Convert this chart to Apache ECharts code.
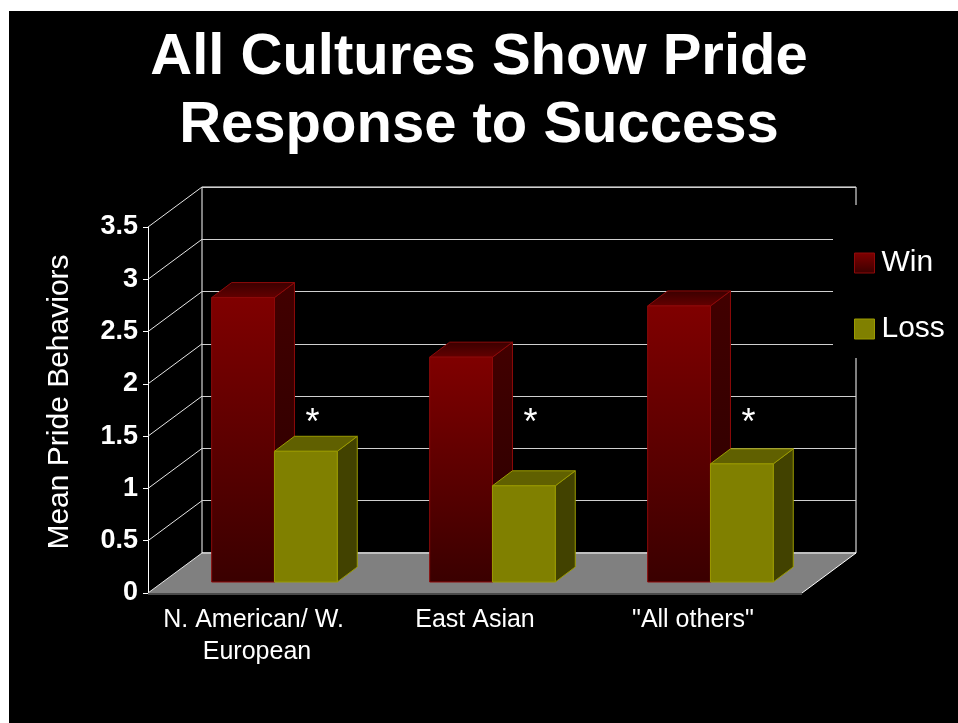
<!DOCTYPE html>
<html>
<head>
<meta charset="utf-8">
<script src="https://cdn.jsdelivr.net/npm/echarts@6/dist/echarts.min.js"></script>
<style>
  html, body { margin: 0; padding: 0; background: #fff; }
  #slide { position: absolute; left: 9px; top: 11px; width: 949px; height: 712px; background: #000; }
  #chart { position: absolute; left: 0; top: 0; width: 958px; height: 723px; }
</style>
</head>
<body>
<div id="slide"></div>
<div id="chart"></div>
<script>
// ---- data ----
const categories = ['N. American/ W. European', 'East Asian', '"All others"'];
const winValues  = [2.72, 2.15, 2.64];
const lossValues = [1.25, 0.92, 1.13];
const yTicks     = [0, 0.5, 1, 1.5, 2, 2.5, 3, 3.5];
const sigMarks   = ['*', '*', '*'];

// ---- layout / style constants ----
const FONT = '"Liberation Sans", Arial, sans-serif';
const PLOT = { left: 148, top: 227, width: 654, height: 366 };   // front plane of the 3D box
const DEPTH = { x: 54, y: -40 };                                 // offset from front plane to back wall
const BAR_Z = 0.275;          // bars' front face, as a fraction of the box depth
const BAR_DEPTH = { x: 20, y: -15 };
const BAR_FRAC = 0.288;       // width of one bar relative to a category band
const GROUP_SHIFT = 0.012;    // bar pair's offset from the band centre
const STAR_LEVEL = 1.62;      // height at which the significance marks sit
const STAR_SHIFT = 0.255;     // horizontal offset of the marks, in bands

const yMax = yTicks[yTicks.length - 1];
const yStep = yTicks[1] - yTicks[0];

function vgrad(top, bottom) {
  return { type: 'linear', x: 0, y: 0, x2: 0, y2: 1,
    colorStops: [{ offset: 0, color: top }, { offset: 1, color: bottom }] };
}

const PALETTE = {
  Win: {
    front: vgrad('#800000', '#3a0000'),
    side: vgrad('#420000', '#2a0000'),
    top: vgrad('#3a0000', '#640000'),
    stroke: '#8e0a0a'
  },
  Loss: {
    front: '#808000',
    side: '#424200',
    top: '#606000',
    stroke: '#9a9a00'
  }
};

// 3D box bar: slot 0 = left bar of the pair, 1 = right bar
function bar3d(slot, pal) {
  return function (params, api) {
    const c = api.value(0), v = api.value(1);
    const base = api.coord([c, 0]);
    const top = api.coord([c, v]);
    const band = api.size([1, 0])[0];
    const w = band * BAR_FRAC;
    const cx = base[0] + band * GROUP_SHIFT + DEPTH.x * BAR_Z;
    const x0 = slot === 0 ? cx - w : cx;
    const yB = base[1] + DEPTH.y * BAR_Z;
    const yT = top[1] + DEPTH.y * BAR_Z;
    const dx = BAR_DEPTH.x, dy = BAR_DEPTH.y;
    const stroke = { stroke: pal.stroke, lineWidth: 1 };
    return {
      type: 'group',
      children: [
        { type: 'polygon',
          shape: { points: [[x0 + w, yT], [x0 + w + dx, yT + dy], [x0 + w + dx, yB + dy], [x0 + w, yB]] },
          style: Object.assign({ fill: pal.side }, stroke) },
        { type: 'polygon',
          shape: { points: [[x0, yT], [x0 + dx, yT + dy], [x0 + w + dx, yT + dy], [x0 + w, yT]] },
          style: Object.assign({ fill: pal.top }, stroke) },
        { type: 'rect',
          shape: { x: x0, y: yT, width: w, height: yB - yT },
          style: Object.assign({ fill: pal.front }, stroke) }
      ]
    };
  };
}

// floor and the left wall's diagonal grid lines
function renderWalls(params, api) {
  const cs = params.coordSys;
  const L = cs.x, R = cs.x + cs.width;
  const y = api.coord([0, api.value(1)])[1];
  const children = [];
  if (params.dataIndex === 0) {
    children.push({
      type: 'polygon',
      shape: { points: [[L, y], [L + DEPTH.x, y + DEPTH.y], [R + DEPTH.x, y + DEPTH.y], [R, y]] },
      style: { fill: '#808080' }
    });
    children.push({ type: 'line', shape: { x1: L, y1: y + 1, x2: R, y2: y + 1 },
      style: { stroke: '#4a4a4a', lineWidth: 2 } });
    children.push({ type: 'line', shape: { x1: R, y1: y, x2: R + DEPTH.x, y2: y + DEPTH.y },
      style: { stroke: '#ffffff', lineWidth: 1 } });
    children.push({ type: 'line', shape: { x1: L + DEPTH.x, y1: y + DEPTH.y, x2: R + DEPTH.x, y2: y + DEPTH.y },
      style: { stroke: '#ffffff', lineWidth: 1 } });
  }
  children.push({ type: 'line', shape: { x1: L, y1: y, x2: L + DEPTH.x, y2: y + DEPTH.y },
    style: { stroke: '#e6e6e6', lineWidth: 1 } });
  return { type: 'group', children: children };
}

function renderMarks(params, api) {
  const c = api.value(0);
  const band = api.size([1, 0])[0];
  const p = api.coord([c, STAR_LEVEL]);
  return {
    type: 'text',
    style: {
      x: p[0] + band * STAR_SHIFT, y: p[1],
      text: sigMarks[params.dataIndex],
      fill: '#ffffff', font: '36px ' + FONT,
      align: 'center', verticalAlign: 'middle'
    }
  };
}

const chart = echarts.init(document.getElementById('chart'), null, { renderer: 'canvas' });

chart.setOption({
  backgroundColor: 'transparent',
  animation: false,
  title: {
    text: 'All Cultures Show Pride\nResponse to Success',
    left: 'center', top: 19,
    textStyle: { color: '#fff', fontSize: 58, fontWeight: 'bold', fontFamily: FONT, lineHeight: 68, align: 'center' }
  },
  legend: {
    orient: 'vertical', left: 833, top: 205,
    padding: [43, 40, 14, 21],
    backgroundColor: '#000',
    itemWidth: 20, itemHeight: 20, itemGap: 36,
    icon: 'rect', selectedMode: false, z: 10,
    textStyle: { color: '#fff', fontSize: 30, fontFamily: FONT, lineHeight: 30, padding: [0, 0, 0, 2] },
    data: [
      { name: 'Win', itemStyle: { color: vgrad('#800000', '#3a0000'), borderColor: '#8e0a0a', borderWidth: 1 } },
      { name: 'Loss', itemStyle: { color: '#808000', borderColor: '#9a9a00', borderWidth: 1 } }
    ]
  },
  graphic: [{
    type: 'text', x: 60, y: 402, rotation: Math.PI / 2,
    style: { text: 'Mean Pride Behaviors', fill: '#fff', font: '30px ' + FONT,
      align: 'center', verticalAlign: 'middle' }
  }],
  grid: [
    { left: PLOT.left, top: PLOT.top, width: PLOT.width, height: PLOT.height },
    { left: PLOT.left + DEPTH.x, top: PLOT.top + DEPTH.y, width: PLOT.width, height: PLOT.height,
      show: true, borderColor: '#ffffff', borderWidth: 1, backgroundColor: 'transparent' }
  ],
  xAxis: [
    { type: 'category', gridIndex: 0, data: categories,
      axisLine: { show: false }, axisTick: { show: false },
      axisLabel: { color: '#fff', fontSize: 25, fontFamily: FONT, lineHeight: 32, margin: 11,
        width: 215, overflow: 'break', interval: 0 } },
    { type: 'category', gridIndex: 1, data: categories, show: false }
  ],
  yAxis: [
    { type: 'value', gridIndex: 0, min: 0, max: yMax, interval: yStep,
      axisLine: { show: true, lineStyle: { color: '#fff', width: 1 } },
      axisTick: { show: true, inside: false, length: 5, lineStyle: { color: '#fff' } },
      axisLabel: { color: '#fff', fontSize: 27, fontWeight: 'bold', fontFamily: FONT, margin: 10 },
      splitLine: { show: false } },
    { type: 'value', gridIndex: 1, min: 0, max: yMax, interval: yStep,
      axisLine: { show: false }, axisTick: { show: false }, axisLabel: { show: false },
      splitLine: { show: true, lineStyle: { color: '#d0d0d0', width: 1 } } }
  ],
  series: [
    { type: 'custom', name: 'walls', xAxisIndex: 0, yAxisIndex: 0, silent: true, clip: false, z: 1,
      data: yTicks.map(t => [0, t]), encode: { x: 0, y: 1 }, renderItem: renderWalls },
    { type: 'custom', name: 'Win', xAxisIndex: 0, yAxisIndex: 0, clip: false, z: 3,
      itemStyle: { color: '#800000' },
      data: winValues.map((v, i) => [i, v]), encode: { x: 0, y: 1 },
      renderItem: bar3d(0, PALETTE.Win) },
    { type: 'custom', name: 'Loss', xAxisIndex: 0, yAxisIndex: 0, clip: false, z: 4,
      itemStyle: { color: '#808000' },
      data: lossValues.map((v, i) => [i, v]), encode: { x: 0, y: 1 },
      renderItem: bar3d(1, PALETTE.Loss) },
    { type: 'custom', name: 'marks', xAxisIndex: 0, yAxisIndex: 0, silent: true, clip: false, z: 5,
      data: sigMarks.map((m, i) => [i, STAR_LEVEL]), encode: { x: 0, y: 1 },
      renderItem: renderMarks }
  ]
});
</script>
</body>
</html>
